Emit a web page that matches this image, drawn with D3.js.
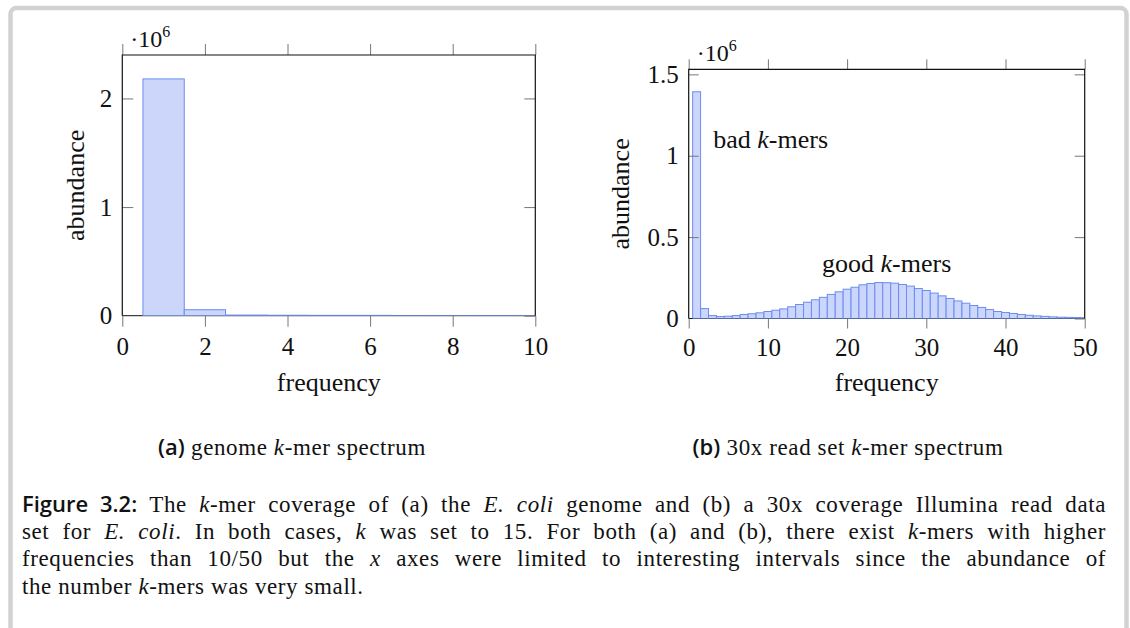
<!DOCTYPE html>
<html>
<head>
<meta charset="utf-8">
<script src="https://cdn.jsdelivr.net/npm/d3@7"></script>
<style>
  body { margin: 0; background: #fff; }
  #wrap { position: relative; width: 1130px; height: 628px; overflow: hidden; }
  svg { position: absolute; left: 0; top: 0; }
  .cap { position: absolute; font-family: "Liberation Serif", serif; font-size: 23px; letter-spacing: 0.6px; color: #111; white-space: nowrap; }
  .cap b, .sub b { font-family: "Open Sans", sans-serif; font-weight: 600; letter-spacing: 0; font-size: 22px; }
  .line { text-align: justify; text-align-last: justify; white-space: normal; }
  .sub { position: absolute; font-family: "Liberation Serif", serif; font-size: 23px; letter-spacing: 0.6px; color: #111; white-space: nowrap; transform: translateX(-50%); }
</style>
</head>
<body>
<div id="wrap"></div>
<script>
// (a) genome k-mer spectrum, abundance in units of 10^6
const genomeFreq = [1, 2, 3, 4, 5, 6, 7, 8, 9, 10];
const genomeAbund = [2.18, 0.055, 0.006, 0.004, 0.003, 0.003, 0.002, 0.002, 0.002, 0.002];
const genomeXTicks = [0, 2, 4, 6, 8, 10];
const genomeYTicks = [0, 1, 2];

// (b) 30x read set k-mer spectrum, abundance in units of 10^6
const readFreq = d3.range(1, 51);
const readAbund = [
  1.393, 0.061, 0.018, 0.012, 0.014, 0.018, 0.025, 0.029, 0.035, 0.043,
  0.051, 0.059, 0.072, 0.086, 0.100, 0.115, 0.130, 0.148, 0.164, 0.180,
  0.192, 0.207, 0.215, 0.221, 0.220, 0.217, 0.209, 0.199, 0.184, 0.172,
  0.156, 0.139, 0.123, 0.108, 0.094, 0.080, 0.068, 0.055, 0.043, 0.037,
  0.031, 0.025, 0.020, 0.016, 0.013, 0.010, 0.008, 0.007, 0.006, 0.005
];
const readXTicks = [0, 10, 20, 30, 40, 50];
const readYTicks = [0, 0.5, 1, 1.5];

const fillColor = "#ccd6fa", barStroke = "#6b8cf2", tickColor = "#777";
const texFont = "'Liberation Serif', serif";

const svg = d3.select("#wrap").append("svg")
    .attr("width", 1130)
    .attr("height", 628);

// light frame around the figure
svg.append("rect")
    .attr("x", 10.5).attr("y", 8)
    .attr("width", 1116).attr("height", 700)
    .attr("rx", 6)
    .attr("fill", "none")
    .attr("stroke", "#d2d2d2")
    .attr("stroke-width", 4.5);

function drawPanel(id, freq, abund, xTicks, yTicks, box) {
    const xScale = d3.scaleLinear().domain(box.xDomain).range([box.left, box.right]);
    const yScale = d3.scaleLinear().domain(box.yDomain).range([box.bottom, box.top]);
    const g = svg.append("g").attr("font-family", texFont).attr("fill", "#111");

    g.append("clipPath").attr("id", "clip-" + id)
      .append("rect")
        .attr("x", box.left).attr("y", box.top)
        .attr("width", box.right - box.left)
        .attr("height", box.bottom - box.top);

    // bottom axis line sits under the bars
    g.append("line")
        .attr("x1", box.left).attr("x2", box.right)
        .attr("y1", box.bottom).attr("y2", box.bottom)
        .attr("stroke", "#111");

    const data = freq.map((f, i) => ({f: f, v: abund[i]}));
    const bw = xScale(1) - xScale(0);
    g.append("g").attr("clip-path", "url(#clip-" + id + ")")
      .selectAll("rect")
      .data(data)
      .enter()
      .append("rect")
        .attr("x", d => xScale(d.f - 0.5))
        .attr("width", bw)
        .attr("y", d => yScale(d.v))
        .attr("height", d => box.bottom - yScale(d.v))
        .attr("fill", fillColor)
        .attr("stroke", barStroke)
        .attr("stroke-width", 1);

    // axes
    const axB = g.append("g")
        .attr("transform", "translate(0," + box.bottom + ")")
        .call(d3.axisBottom(xScale).tickValues(xTicks).tickSize(box.tick).tickPadding(box.xPad)
            .tickFormat(d3.format("~g")));
    const axT = g.append("g")
        .attr("transform", "translate(0," + box.top + ")")
        .call(d3.axisTop(xScale).tickValues(xTicks).tickSize(box.tick).tickFormat(""));
    const axL = g.append("g")
        .attr("transform", "translate(" + box.left + ",0)")
        .call(d3.axisLeft(yScale).tickValues(yTicks).tickSize(-box.tick).tickPadding(10)
            .tickFormat(d3.format("~g")));
    const axR = g.append("g")
        .attr("transform", "translate(" + box.right + ",0)")
        .call(d3.axisRight(yScale).tickValues(yTicks).tickSize(-box.tick).tickFormat(""));

    [axB, axT, axL, axR].forEach(ax => {
        ax.select(".domain").remove();
        ax.selectAll(".tick line").attr("stroke", tickColor);
        ax.selectAll(".tick text")
            .attr("font-family", texFont)
            .attr("font-size", 25)
            .attr("fill", "#111");
    });
    axL.selectAll(".tick line").filter(d => d === 0).remove();

    // left, top and right frame lines over the bars
    g.append("path")
        .attr("d", "M" + box.left + "," + box.bottom + "V" + box.top + "H" + box.right + "V" + box.bottom)
        .attr("fill", "none")
        .attr("stroke", "#111")
        .attr("stroke-width", 1.2);

    // axis labels
    g.append("text")
        .attr("x", (box.left + box.right) / 2)
        .attr("y", box.xLabelY)
        .attr("text-anchor", "middle")
        .attr("font-size", 26)
        .text("frequency");
    g.append("text")
        .attr("transform", "translate(" + box.yLabelX + "," + (box.top + box.bottom) / 2 + ") rotate(-90)")
        .attr("text-anchor", "middle")
        .attr("font-size", 26)
        .text("abundance");

    // scale multiplier
    const mult = g.append("text")
        .attr("x", box.left + box.multDx)
        .attr("y", box.multY)
        .attr("font-size", 24);
    mult.append("tspan").text("\u00b710");
    mult.append("tspan").attr("dy", -10).attr("font-size", 16).text("6");

    return {x: xScale, y: yScale, g: g};
}

const left = drawPanel("a", genomeFreq, genomeAbund, genomeXTicks, genomeYTicks, {
    left: 122.3, right: 535.3, top: 55, bottom: 315.7,
    xDomain: [0, 10], yDomain: [0, 2.4],
    tick: 11, xPad: 11, xLabelY: 391, yLabelX: 84, multDx: 8, multY: 47
});

const right = drawPanel("b", readFreq, readAbund, readXTicks, readYTicks, {
    left: 688.7, right: 1084.7, top: 69.3, bottom: 318.5,
    xDomain: [0, 50], yDomain: [0, 1.531],
    tick: 10, xPad: 10, xLabelY: 391, yLabelX: 629, multDx: 8, multY: 61
});

// annotations
function kmerLabel(panel, x, y, anchor, word) {
    const t = panel.g.append("text")
        .attr("x", panel.x(x))
        .attr("y", panel.y(y))
        .attr("text-anchor", anchor)
        .attr("font-size", 26);
    t.append("tspan").text(word + " ");
    t.append("tspan").attr("font-style", "italic").text("k");
    t.append("tspan").text("-mers");
}
kmerLabel(right, 3.1, 1.048, "start", "bad");
kmerLabel(right, 25, 0.287, "middle", "good");

// sub captions and figure caption
const wrap = d3.select("#wrap");
wrap.append("div").attr("class", "sub")
    .style("left", "292px").style("top", "431px")
    .html("<b>(a)</b> genome <i>k</i>-mer spectrum");
wrap.append("div").attr("class", "sub")
    .style("left", "848px").style("top", "431px")
    .html("<b>(b)</b> 30x read set <i>k</i>-mer spectrum");

const captionLines = [
    "<b>Figure 3.2:</b> The <i>k</i>-mer coverage of (a) the <i>E. coli</i> genome and (b) a 30x coverage Illumina read data",
    "set for <i>E. coli</i>. In both cases, <i>k</i> was set to 15. For both (a) and (b), there exist <i>k</i>-mers with higher",
    "frequencies than 10/50 but the <i>x</i> axes were limited to interesting intervals since the abundance of",
    "the number <i>k</i>-mers was very small."
];
const cap = wrap.append("div").attr("class", "cap")
    .style("left", "22px").style("top", "490px").style("width", "1084px");
cap.selectAll("div")
    .data(captionLines)
    .enter()
    .append("div")
    .attr("class", (d, i) => i < captionLines.length - 1 ? "line" : null)
    .style("height", "27.5px")
    .style("line-height", "27.5px")
    .html(d => d);
</script>
</body>
</html>
